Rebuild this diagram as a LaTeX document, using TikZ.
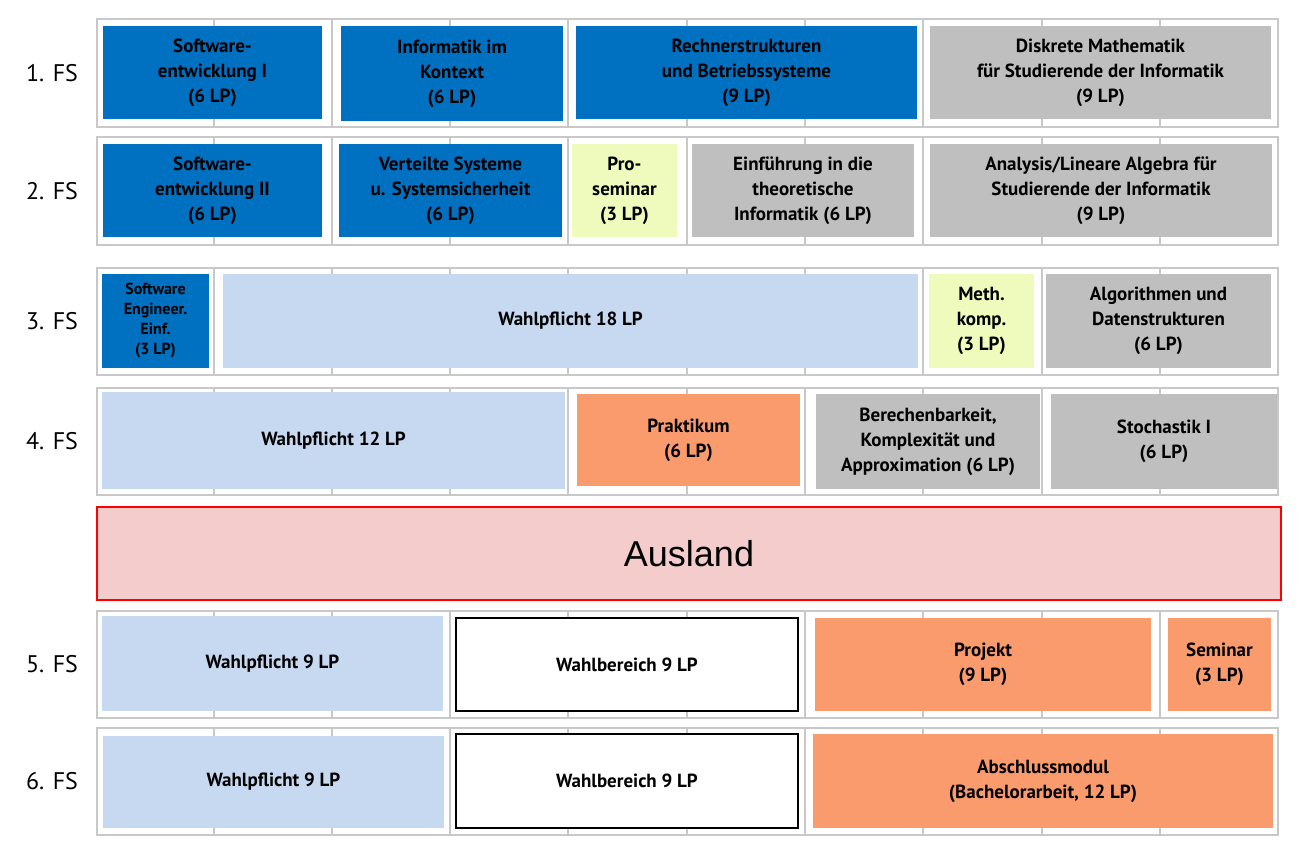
\documentclass[tikz,border=0pt]{standalone}
\usepackage{fontspec}
\setmainfont{PT Sans}
\newfontfamily\arialf{Liberation Sans}
\definecolor{cblue}{HTML}{0070C0}
\definecolor{cgray}{HTML}{BFBFBF}
\definecolor{cyel}{HTML}{EFFBBC}
\definecolor{clblue}{HTML}{C6D9F0}
\definecolor{corange}{HTML}{FA9B6E}
\definecolor{cpink}{HTML}{F4CCCC}
\definecolor{cgrid}{HTML}{C8C8C8}
\tikzset{
 mbox/.style={draw=none,inner sep=0pt,align=center,font=\fontsize{19}{25}\selectfont\bfseries},
 gridl/.style={draw=cgrid,line width=2.5pt},
 fslab/.style={font=\fontsize{24}{28}\selectfont,anchor=center},
}
\newcommand{\bx}[7]{\node[mbox,#6,minimum width={(#4-#2)*1pt},minimum height={(#5-#3)*1pt}] (#1) at ({(#2+#4)/2},{(#3+#5)/2}) {#7};}
\newcommand{\rowg}[3]{%
 \draw[gridl] (97,#1) rectangle (1278,#2);
 \foreach \xx in {214,332,450,568,687,805,923,1042,1160} {\draw[draw=cgrid,line width=2pt] (\xx,#1) -- (\xx,#2);}
 \node[fslab] (fs#3) at (52,{(#1+#2)/2}) {#3. FS};}
\begin{document}
\begin{tikzpicture}[x=1pt,y=-1pt]
\useasboundingbox (0,0) rectangle (1304,851);
\rowg{19}{127}{1}
\rowg{137}{245}{2}
\rowg{268}{375}{3}
\rowg{388}{495}{4}
\rowg{611}{718}{5}
\rowg{728}{835}{6}
% row 1
\bx{a1}{103}{26}{322}{119}{fill=cblue}{Software-\\entwicklung I\\(6 LP)}
\bx{a2}{341}{26}{563}{121}{fill=cblue}{Informatik im\\Kontext\\(6 LP)}
\bx{a3}{576}{26}{917}{119}{fill=cblue}{Rechnerstrukturen\\und Betriebssysteme\\(9 LP)}
\bx{a4}{930}{26}{1271}{119}{fill=cgray}{Diskrete Mathematik\\für Studierende der Informatik\\(9 LP)}
% row 2
\bx{b1}{103}{144}{322}{237}{fill=cblue}{Software-\\entwicklung II\\(6 LP)}
\bx{b2}{339}{144}{562}{237}{fill=cblue}{Verteilte Systeme\\u. Systemsicherheit\\(6 LP)}
\bx{b3}{572}{144}{677}{237}{fill=cyel}{Pro-\\seminar\\(3 LP)}
\bx{b4}{692}{144}{914}{237}{fill=cgray}{Einführung in die\\theoretische\\Informatik (6 LP)}
\bx{b5}{930}{144}{1272}{237}{fill=cgray}{Analysis/Lineare Algebra für\\Studierende der Informatik\\(9 LP)}
% row 3
\bx{c1}{102}{274}{209}{368}{fill=cblue,font=\fontsize{16}{20}\selectfont\bfseries}{Software\\Engineer.\\Einf.\\(3 LP)}
\bx{c2}{223}{274}{918}{368}{fill=clblue}{Wahlpflicht 18 LP}
\bx{c3}{929}{274}{1034}{368}{fill=cyel}{Meth.\\komp.\\(3 LP)}
\bx{c4}{1046}{274}{1271}{368}{fill=cgray}{Algorithmen und\\Datenstrukturen\\(6 LP)}
% row 4
\bx{d1}{102}{392}{565}{489}{fill=clblue}{Wahlpflicht 12 LP}
\bx{d2}{577}{394}{800}{486}{fill=corange}{Praktikum\\(6 LP)}
\bx{d3}{816}{394}{1040}{489}{fill=cgray}{Berechenbarkeit,\\Komplexität und\\Approximation (6 LP)}
\bx{d4}{1051}{394}{1277}{489}{fill=cgray}{Stochastik I\\(6 LP)}
% Ausland
\bx{au}{97}{507}{1281}{600}{fill=cpink,draw=red,line width=1.5pt,font=\arialf\fontsize{36}{40}\selectfont}{Ausland}
% row 5
\bx{e1}{102}{616}{443}{711}{fill=clblue}{Wahlpflicht 9 LP}
\bx{e2}{456}{618}{798}{711}{fill=white,draw=black,line width=1.5pt}{Wahlbereich 9 LP}
\bx{e3}{815}{618}{1151}{711}{fill=corange}{Projekt\\(9 LP)}
\bx{e4}{1168}{618}{1271}{711}{fill=corange}{Seminar\\(3 LP)}
% row 6
\bx{f1}{103}{736}{444}{828}{fill=clblue}{Wahlpflicht 9 LP}
\bx{f2}{456}{734}{798}{828}{fill=white,draw=black,line width=1.5pt}{Wahlbereich 9 LP}
\bx{f3}{813}{734}{1273}{828}{fill=corange}{Abschlussmodul\\(Bachelorarbeit, 12 LP)}
\end{tikzpicture}
\end{document}
